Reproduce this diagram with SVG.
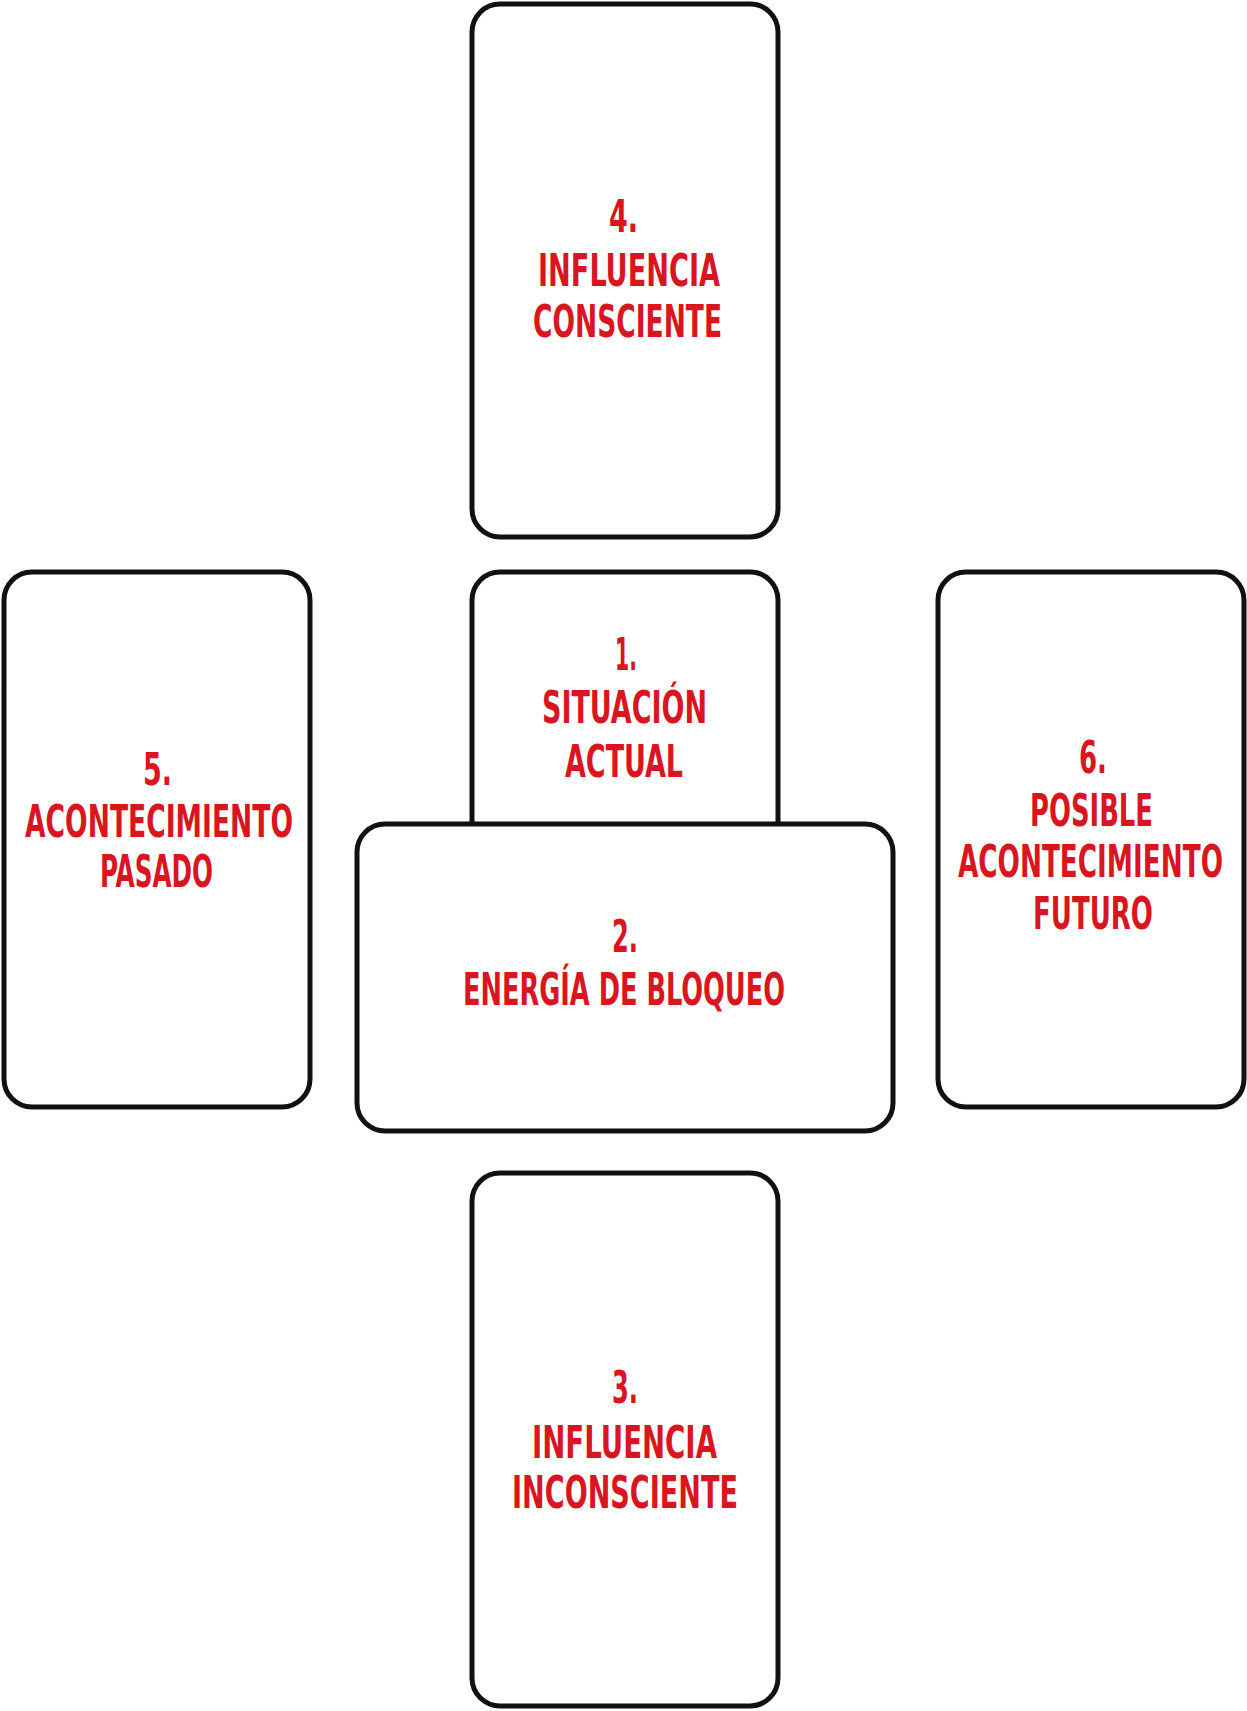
<svg xmlns="http://www.w3.org/2000/svg" width="1247" height="1711" viewBox="0 0 1247 1711">
<style>
.card{fill:#ffffff;stroke:#111111;stroke-width:5}
.lbl{fill:#d9151f;font-family:"Liberation Sans Narrow","DejaVu Sans Condensed","Liberation Sans",sans-serif;font-weight:bold;font-size:45px}
</style>
<rect x="0" y="0" width="1247" height="1711" fill="#ffffff"/>
<g id="card4">
<rect class="card" x="472" y="4" width="306" height="533" rx="28"/>
<text class="lbl" x="609" y="232" textLength="29" lengthAdjust="spacingAndGlyphs">4.</text>
<text class="lbl" x="538" y="286" textLength="182" lengthAdjust="spacingAndGlyphs">INFLUENCIA</text>
<text class="lbl" x="533" y="337" textLength="189" lengthAdjust="spacingAndGlyphs">CONSCIENTE</text>
</g>
<g id="card5">
<rect class="card" x="4" y="572" width="306" height="535" rx="28"/>
<text class="lbl" x="143" y="785" textLength="29" lengthAdjust="spacingAndGlyphs">5.</text>
<text class="lbl" x="25" y="837" textLength="268" lengthAdjust="spacingAndGlyphs">ACONTECIMIENTO</text>
<text class="lbl" x="100" y="887" textLength="113" lengthAdjust="spacingAndGlyphs">PASADO</text>
</g>
<g id="card6">
<rect class="card" x="938" y="572" width="306" height="535" rx="28"/>
<text class="lbl" x="1079" y="773" textLength="28" lengthAdjust="spacingAndGlyphs">6.</text>
<text class="lbl" x="1030" y="826" textLength="123" lengthAdjust="spacingAndGlyphs">POSIBLE</text>
<text class="lbl" x="958" y="877" textLength="265" lengthAdjust="spacingAndGlyphs">ACONTECIMIENTO</text>
<text class="lbl" x="1033" y="929" textLength="120" lengthAdjust="spacingAndGlyphs">FUTURO</text>
</g>
<g id="card1">
<rect class="card" x="472" y="572" width="306" height="535" rx="28"/>
<text class="lbl" x="615" y="670" textLength="22" lengthAdjust="spacingAndGlyphs">1.</text>
<text class="lbl" x="542" y="723" textLength="165" lengthAdjust="spacingAndGlyphs">SITUACIÓN</text>
<text class="lbl" x="565" y="777" textLength="118" lengthAdjust="spacingAndGlyphs">ACTUAL</text>
</g>
<g id="card2">
<rect class="card" x="357" y="824" width="536" height="307" rx="28"/>
<text class="lbl" x="612" y="952" textLength="26" lengthAdjust="spacingAndGlyphs">2.</text>
<text class="lbl" x="463" y="1005" textLength="322" lengthAdjust="spacingAndGlyphs">ENERGÍA DE BLOQUEO</text>
</g>
<g id="card3">
<rect class="card" x="472" y="1173" width="306" height="533" rx="28"/>
<text class="lbl" x="612" y="1403" textLength="26" lengthAdjust="spacingAndGlyphs">3.</text>
<text class="lbl" x="532" y="1458" textLength="185" lengthAdjust="spacingAndGlyphs">INFLUENCIA</text>
<text class="lbl" x="512" y="1508" textLength="226" lengthAdjust="spacingAndGlyphs">INCONSCIENTE</text>
</g>
</svg>
